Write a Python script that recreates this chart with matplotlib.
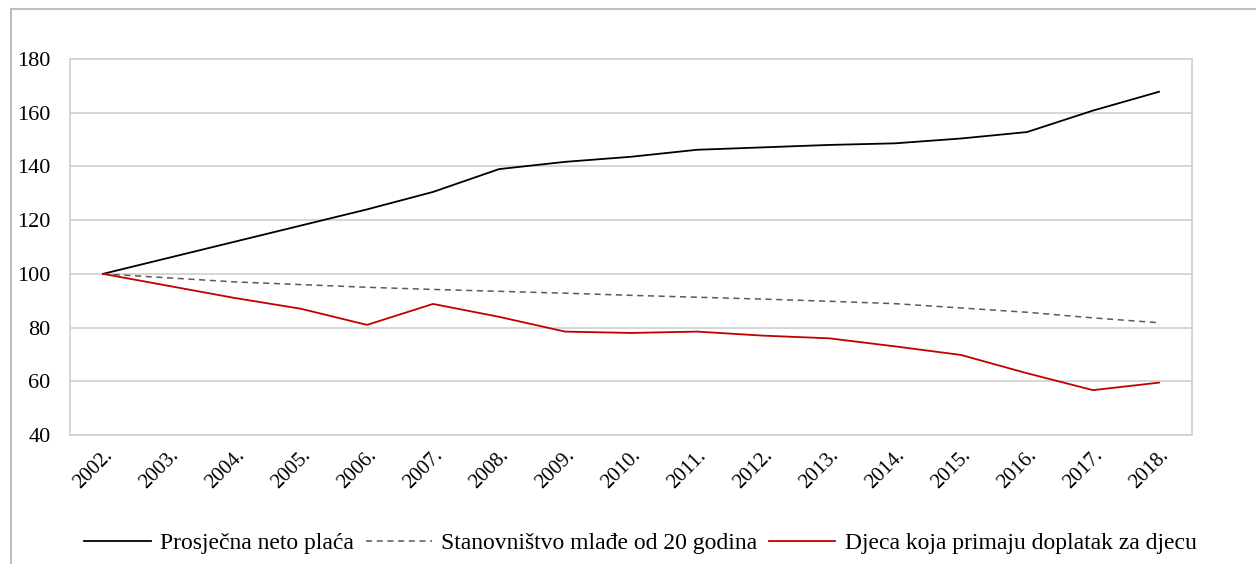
import matplotlib.pyplot as plt
from matplotlib.lines import Line2D

years = ['2002.', '2003.', '2004.', '2005.', '2006.', '2007.', '2008.', '2009.', '2010.',
         '2011.', '2012.', '2013.', '2014.', '2015.', '2016.', '2017.', '2018.']
placa = [100, 106, 112, 118, 124, 130.5, 139, 141.7, 143.6, 146.2, 147.1, 148, 148.6,
         150.4, 152.8, 160.8, 167.8]
stanovnistvo = [100, 98.5, 97, 96, 95, 94.2, 93.5, 92.8, 92, 91.3, 90.6, 89.8, 88.9,
                87.3, 85.7, 83.6, 81.8]
doplatak = [100, 95.5, 91, 87, 81, 88.8, 84, 78.5, 78, 78.5, 77, 76, 73,
            69.8, 63, 56.7, 59.5]
labels = ['Prosječna neto plaća', 'Stanovništvo mlađe od 20 godina',
          'Djeca koja primaju doplatak za djecu']
yticks = [40, 60, 80, 100, 120, 140, 160, 180]

plt.rcParams['font.family'] = ['Liberation Serif', 'DejaVu Serif']

W, H = 1256, 564
fig = plt.figure(figsize=(W / 100, H / 100), dpi=100)
ax = fig.add_axes([70 / W, 1 - 435 / H, (1192 - 70) / W, (435 - 59) / H])

x = list(range(len(years)))
ax.plot(x, placa, color='black', lw=1.3, label=labels[0])
ax.plot(x, stanovnistvo, color='#595959', lw=1.1, ls=(0, (4, 3)), label=labels[1])
ax.plot(x, doplatak, color='#c00000', lw=1.3, label=labels[2])

ax.set_xlim(-0.5, len(years) - 0.5)
ax.set_ylim(40, 180)
ax.set_yticks(yticks)
ax.set_yticklabels([str(v) for v in yticks], fontsize=16)
ax.set_xticks(x)
ax.set_xticklabels(years, rotation=45, ha='right', rotation_mode='anchor', fontsize=15)
ax.tick_params(length=0)
ax.tick_params(axis='x', pad=8)
ax.tick_params(axis='y', pad=14)
ax.grid(axis='y', color='#d0d0d0', lw=1.2)
ax.set_axisbelow(True)
for s in ax.spines.values():
    s.set_color('#d0d0d0')
    s.set_linewidth(1.2)

fig.legend(loc='center', bbox_to_anchor=(0.51, 1 - 543 / H), ncol=3, frameon=False,
           fontsize=17, handlelength=2.8, columnspacing=0.5, handletextpad=0.4)

# chart area border
fig.add_artist(Line2D([11 / W, 11 / W], [0, 1 - 8.5 / H], color='#bfbfbf', lw=1.5))
fig.add_artist(Line2D([11 / W, 1255 / W], [1 - 8.5 / H, 1 - 8.5 / H], color='#bfbfbf', lw=1.5))

fig.savefig('out.png', dpi=100)
